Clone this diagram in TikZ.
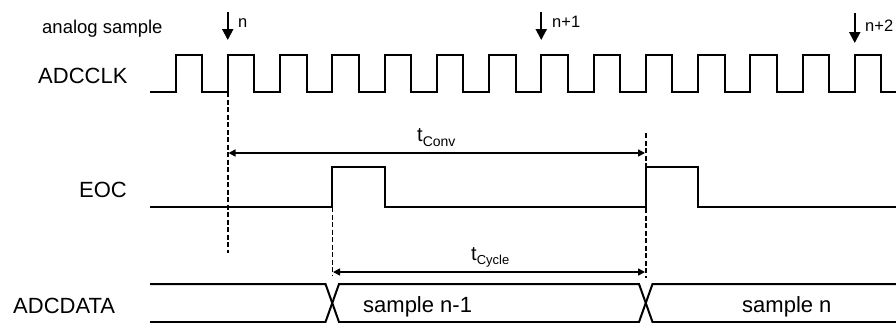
\documentclass[tikz,border=0pt]{standalone}
\usepackage{fontspec}
\setmainfont{Liberation Sans}
\usetikzlibrary{arrows.meta}
\begin{document}
\begin{tikzpicture}[x=1pt,y=-1pt,
  wave/.style={line width=2pt, line join=miter},
  dashln/.style={line width=1.5pt, dash pattern=on 5pt off 2.5pt},
  dimarrow/.style={line width=1.5pt, {Triangle[length=7pt,width=7pt]}-{Triangle[length=7pt,width=7pt]}},
  samparrow/.style={line width=2pt, -{Triangle[length=11pt,width=11pt]}},
  siglbl/.style={anchor=base west, inner sep=0pt, font=\fontsize{22}{22}\selectfont},
  smalllbl/.style={anchor=base west, inner sep=0pt, font=\fontsize{16.5}{16.5}\selectfont},
  tlbl/.style={anchor=base west, inner sep=0pt, font=\fontsize{20}{20}\selectfont}]
\useasboundingbox (0,0) rectangle (896,322);

% labels
\node[anchor=base west, inner sep=0pt, font=\fontsize{18.5}{18.5}\selectfont] (as) at (42,33) {analog sample};
\node[siglbl] (clk) at (38,83) {ADCCLK};
\node[siglbl] (eoc) at (79,197) {EOC};
\node[siglbl] (data) at (13,313) {ADCDATA};
\node[smalllbl] (ln) at (238,27) {n};
\node[smalllbl] (ln1) at (552,27) {n+1};
\node[smalllbl] (ln2) at (865,31) {n+2};

% sample arrows
\coordinate (a1t) at (227.75,12); \coordinate (a1b) at (227.75,40);
\coordinate (a2t) at (541.25,12); \coordinate (a2b) at (541.25,40);
\coordinate (a3t) at (854.75,13); \coordinate (a3b) at (854.75,43);
\draw[samparrow] (a1t) -- (a1b);
\draw[samparrow] (a2t) -- (a2b);
\draw[samparrow] (a3t) -- (a3b);

% ADCCLK
\draw[wave] (150,92) \foreach \k in {0,...,13} { -- ({175.5+52.25*\k},92) -- ++(0,-37) -- ++(26.5,0) -- ++(0,37) } -- (896,92);

% EOC
\draw[wave] (150,207) -- (332.25,207) -- (332.25,167) -- (384.5,167) -- (384.5,207)
  -- (645.75,207) -- (645.75,167) -- (698,167) -- (698,207) -- (896,207);

% ADCDATA
\draw[wave] (150,284) -- (325.5,284) -- (339,322) -- (639,322) -- (652.5,284) -- (896,284);
\draw[wave] (150,322) -- (325.5,322) -- (339,284) -- (639,284) -- (652.5,322) -- (896,322);
\node[siglbl] (s1) at (363,312) {sample n-1};
\node[siglbl] (s2) at (742,312) {sample n};

% dashed lines
\coordinate (d1t) at (227.75,92); \coordinate (d1b) at (227.75,253);
\coordinate (d2t) at (332.25,207); \coordinate (d2b) at (332.25,276);
\coordinate (d3t) at (645.75,133); \coordinate (d3b) at (645.75,278);
\draw[dashln] (d1t) -- (d1b);
\draw[dashln] (d2t) -- (d2b);
\draw[dashln] (d3t) -- (d3b);

% timing arrows
\coordinate (c1) at (228.5,153); \coordinate (c2) at (645,153);
\draw[dimarrow] (c1) -- (c2);
\node[tlbl] (tconv) at (417,141) {t\raisebox{-5pt}{\fontsize{14}{14}\selectfont Conv}};
\coordinate (y1) at (333,272); \coordinate (y2) at (645,272);
\draw[dimarrow] (y1) -- (y2);
\node[tlbl] (tcyc) at (471,260) {t\raisebox{-4pt}{\fontsize{13}{13}\selectfont Cycle}};
\end{tikzpicture}
\end{document}
